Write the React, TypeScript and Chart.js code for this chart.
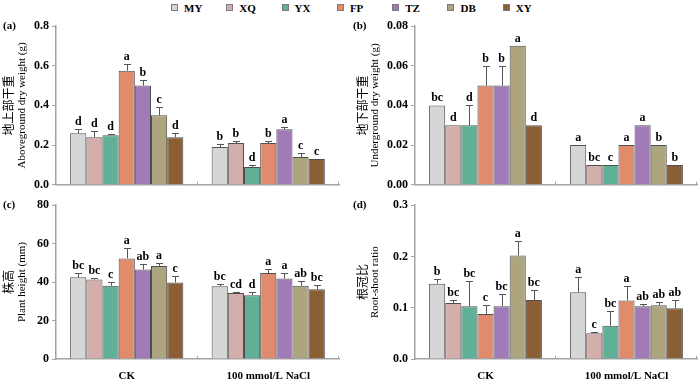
import React, { useEffect, useRef } from 'react';
import { Chart, registerables } from 'chart.js';

Chart.register(...registerables);

const SERIF = '"Liberation Serif", "Times New Roman", serif';
const CJK = '"Noto Sans CJK SC", sans-serif';

// ---------- data ----------
const categories = ['CK', '100 mmol/L NaCl'];
const varieties = ['MY', 'XQ', 'YX', 'FP', 'TZ', 'DB', 'XY'];
const colors = ['#d6d6d6', '#d4aeab', '#5fb096', '#e08c6c', '#a07bb7', '#aca57f', '#8a5f36'];

// (a) Aboveground dry weight (g)
const aboveCK = [0.26, 0.24, 0.25, 0.575, 0.5, 0.35, 0.24];
const aboveNaCl = [0.19, 0.21, 0.09, 0.21, 0.28, 0.14, 0.13];
const aboveErrCK = [0.02, 0.03, 0.008, 0.032, 0.027, 0.04, 0.02];
const aboveErrNaCl = [0.018, 0.01, 0.009, 0.01, 0.01, 0.02, 0];
const aboveLetCK = ['d', 'd', 'd', 'a', 'b', 'c', 'd'];
const aboveLetNaCl = ['b', 'b', 'd', 'b', 'a', 'c', 'c'];
const aboveTicks = [0, 0.2, 0.4, 0.6, 0.8];

// (b) Underground dry weight (g)
const underCK = [0.04, 0.03, 0.03, 0.05, 0.05, 0.07, 0.03];
const underNaCl = [0.02, 0.01, 0.01, 0.02, 0.03, 0.02, 0.01];
const underErrCK = [0, 0, 0.01, 0.01, 0.01, 0, 0];
const underErrNaCl = [0, 0, 0, 0, 0, 0, 0];
const underLetCK = ['bc', 'd', 'd', 'b', 'b', 'a', 'd'];
const underLetNaCl = ['a', 'bc', 'c', 'a', 'a', 'b', 'b'];
const underTicks = [0, 0.02, 0.04, 0.06, 0.08];

// (c) Plant height (mm)
const heightCK = [42.5, 41.4, 38.1, 52.3, 46.6, 48.4, 39.8];
const heightNaCl = [37.8, 34.3, 33.2, 44.7, 41.9, 38.1, 36.3];
const heightErrCK = [2.1, 0.5, 2.2, 5.2, 2.9, 1.4, 3.6];
const heightErrNaCl = [1.4, 0.3, 1.6, 2.2, 2.7, 2.7, 2.0];
const heightLetCK = ['bc', 'bc', 'c', 'a', 'ab', 'a', 'c'];
const heightLetNaCl = ['bc', 'cd', 'd', 'a', 'a', 'ab', 'bc'];
const heightTicks = [0, 20, 40, 60, 80];

// (d) Root-shoot ratio
const ratioCK = [0.147, 0.109, 0.103, 0.088, 0.103, 0.202, 0.115];
const ratioNaCl = [0.13, 0.05, 0.065, 0.114, 0.103, 0.105, 0.099];
const ratioErrCK = [0.009, 0.007, 0.05, 0.018, 0.024, 0.029, 0.019];
const ratioErrNaCl = [0.03, 0.003, 0.028, 0.029, 0.004, 0.006, 0.017];
const ratioLetCK = ['b', 'bc', 'bc', 'c', 'bc', 'a', 'bc'];
const ratioLetNaCl = ['a', 'c', 'bc', 'a', 'ab', 'ab', 'ab'];
const ratioTicks = [0, 0.1, 0.2, 0.3];

// ---------- styles ----------
const AXIS = '#a3a3a3';
const BAR_BORDER = '#4f4f4f';
const ERR = '#555555';

type PanelCfg = {
  tag: string;
  cn: string;
  en: string;
  ck: number[];
  nacl: number[];
  errCK: number[];
  errNaCl: number[];
  letCK: string[];
  letNaCl: string[];
  ticks: number[];
  dec: number;
  left: number;
  top: number;
  width: number;
  height: number;
  padTop: number;
  padRight: number;
  yW: number;
  xH: number;
  showX: boolean;
  cnOff: number;
  enOff: number;
};

const panels: PanelCfg[] = [
  {
    tag: '(a)', cn: '地上部干重', en: 'Aboveground dry weight (g)',
    ck: aboveCK, nacl: aboveNaCl, errCK: aboveErrCK, errNaCl: aboveErrNaCl,
    letCK: aboveLetCK, letNaCl: aboveLetNaCl, ticks: aboveTicks, dec: 1,
    left: 0, top: 0, width: 350, height: 195, padTop: 26, padRight: 11, yW: 56, xH: 10, showX: false,
    cnOff: 48, enOff: 34,
  },
  {
    tag: '(b)', cn: '地下部干重', en: 'Underground dry weight (g)',
    ck: underCK, nacl: underNaCl, errCK: underErrCK, errNaCl: underErrNaCl,
    letCK: underLetCK, letNaCl: underLetNaCl, ticks: underTicks, dec: 2,
    left: 350, top: 0, width: 350, height: 195, padTop: 26, padRight: 3, yW: 65, xH: 10, showX: false,
    cnOff: 53, enOff: 40,
  },
  {
    tag: '(c)', cn: '株高', en: 'Plant height (mm)',
    ck: heightCK, nacl: heightNaCl, errCK: heightErrCK, errNaCl: heightErrNaCl,
    letCK: heightLetCK, letNaCl: heightLetNaCl, ticks: heightTicks, dec: 0,
    left: 0, top: 195, width: 350, height: 184, padTop: 6, padRight: 11, yW: 56, xH: 20, showX: true,
    cnOff: 48, enOff: 34,
  },
  {
    tag: '(d)', cn: '根冠比', en: 'Root-shoot ratio',
    ck: ratioCK, nacl: ratioNaCl, errCK: ratioErrCK, errNaCl: ratioErrNaCl,
    letCK: ratioLetCK, letNaCl: ratioLetNaCl, ticks: ratioTicks, dec: 1,
    left: 350, top: 195, width: 350, height: 184, padTop: 6, padRight: 3, yW: 65, xH: 20, showX: true,
    cnOff: 53, enOff: 40,
  },
];

function makeOverlay(cfg: PanelCfg) {
  return {
    id: 'overlay',
    afterDatasetsDraw(chart: any) {
      const ctx = chart.ctx;
      const yScale = chart.scales.y;
      const area = chart.chartArea;
      ctx.save();
      // error bars + letters
      chart.data.datasets.forEach((ds: any, i: number) => {
        const meta = chart.getDatasetMeta(i);
        meta.data.forEach((bar: any, j: number) => {
          const val = ds.data[j];
          const err = j === 0 ? cfg.errCK[i] : cfg.errNaCl[i];
          const letter = j === 0 ? cfg.letCK[i] : cfg.letNaCl[i];
          const x = bar.x;
          const yTop = yScale.getPixelForValue(val);
          const yErr = yScale.getPixelForValue(val + err);
          if (err > 0) {
            ctx.strokeStyle = ERR;
            ctx.lineWidth = 1;
            ctx.beginPath();
            ctx.moveTo(Math.round(x) + 0.5, yTop);
            ctx.lineTo(Math.round(x) + 0.5, Math.round(yErr) + 0.5);
            ctx.moveTo(Math.round(x) - 3, Math.round(yErr) + 0.5);
            ctx.lineTo(Math.round(x) + 4, Math.round(yErr) + 0.5);
            ctx.stroke();
          }
          ctx.fillStyle = '#000';
          ctx.font = `bold 12px ${SERIF}`;
          ctx.textAlign = 'center';
          ctx.textBaseline = 'alphabetic';
          ctx.fillText(letter, x, Math.min(yErr, yTop) - 4);
        });
      });
      // inward x tick marks at category boundaries
      ctx.strokeStyle = AXIS;
      ctx.lineWidth = 1;
      ctx.beginPath();
      for (let k = 1; k <= categories.length; k++) {
        const xx = Math.round(area.left + (area.width * k) / categories.length) - 0.5;
        ctx.moveTo(xx, area.bottom);
        ctx.lineTo(xx, area.bottom - 3);
      }
      ctx.stroke();
      ctx.restore();
    },
    afterDraw(chart: any) {
      const ctx = chart.ctx;
      const area = chart.chartArea;
      const cy = (area.top + area.bottom) / 2;
      ctx.save();
      ctx.fillStyle = '#000';
      // axis titles
      ctx.textAlign = 'center';
      ctx.textBaseline = 'middle';
      ctx.save();
      ctx.translate(area.left - cfg.cnOff, cy);
      ctx.rotate(-Math.PI / 2);
      ctx.font = `12px ${CJK}`;
      ctx.fillText(cfg.cn, 0, 0);
      ctx.restore();
      ctx.save();
      ctx.translate(area.left - cfg.enOff, cy);
      ctx.rotate(-Math.PI / 2);
      ctx.font = `11px ${SERIF}`;
      ctx.fillText(cfg.en, 0, 0);
      ctx.restore();
      // panel tag
      ctx.textAlign = 'left';
      ctx.font = `bold 11px ${SERIF}`;
      ctx.fillText(cfg.tag, 3, area.top);
      ctx.restore();
    },
  };
}

function Panel({ cfg }: { cfg: PanelCfg }) {
  const ref = useRef<HTMLCanvasElement | null>(null);
  useEffect(() => {
    if (!ref.current) return;
    const chart = new Chart(ref.current, {
      type: 'bar',
      data: {
        labels: categories,
        datasets: varieties.map((v, i) => ({
          label: v,
          data: [cfg.ck[i], cfg.nacl[i]],
          backgroundColor: colors[i],
          borderColor: BAR_BORDER,
          borderWidth: 1,
          categoryPercentage: 0.8,
          barPercentage: 1,
        })),
      },
      options: {
        responsive: false,
        animation: false,
        devicePixelRatio: 1,
        layout: { padding: { top: cfg.padTop, right: cfg.padRight, left: 0, bottom: 0 } },
        plugins: { legend: { display: false }, tooltip: { enabled: false } },
        scales: {
          x: {
            grid: { display: false },
            border: { display: true, color: AXIS, width: 1.5 },
            ticks: {
              display: cfg.showX,
              color: '#000',
              font: { family: SERIF, size: 11, weight: 'bold' },
              padding: 3,
              maxRotation: 0,
            },
            afterFit: (s: any) => {
              s.height = cfg.xH;
            },
          },
          y: {
            min: cfg.ticks[0],
            max: cfg.ticks[cfg.ticks.length - 1],
            afterBuildTicks: (s: any) => {
              s.ticks = cfg.ticks.map((t) => ({ value: t }));
            },
            ticks: {
              color: '#000',
              font: { family: SERIF, size: 12, weight: 'bold' },
              padding: 3,
              callback: (v: any) => Number(v).toFixed(cfg.dec),
            },
            grid: { drawOnChartArea: false, drawTicks: true, tickLength: 4, color: AXIS, lineWidth: 1 },
            border: { display: true, color: AXIS, width: 1.5 },
            afterFit: (s: any) => {
              s.width = cfg.yW;
            },
          },
        },
      } as any,
      plugins: [makeOverlay(cfg)],
    });
    return () => chart.destroy();
  }, [cfg]);
  return (
    <canvas
      ref={ref}
      width={cfg.width}
      height={cfg.height}
      style={{ position: 'absolute', left: cfg.left, top: cfg.top, width: cfg.width, height: cfg.height }}
    />
  );
}

export default function App() {
  return (
    <div
      style={{
        position: 'fixed',
        left: 0,
        top: 0,
        width: 700,
        height: 379,
        background: '#fff',
        overflow: 'hidden',
      }}
    >
      <div style={{ position: 'absolute', left: 171, top: 0, height: 16, display: 'flex' }}>
        {varieties.map((v, i) => (
          <div key={v} style={{ width: 55.3, display: 'flex', alignItems: 'center', height: 15 }}>
            <span
              style={{
                display: 'inline-block',
                width: 5,
                height: 5,
                border: '1px solid #7a7a7a',
                background: colors[i],
                marginRight: 6,
              }}
            />
            <span style={{ font: `bold 11px ${SERIF}`, color: '#000' }}>{v}</span>
          </div>
        ))}
      </div>
      {panels.map((p) => (
        <Panel key={p.tag} cfg={p} />
      ))}
    </div>
  );
}
